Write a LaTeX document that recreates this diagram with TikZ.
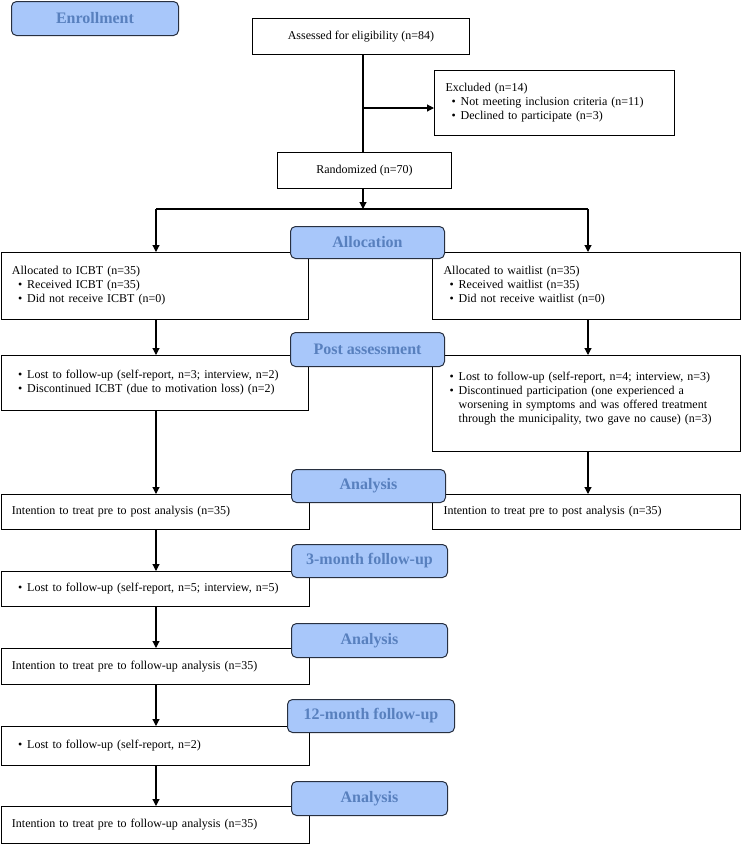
\documentclass[tikz,border=0pt]{standalone}
\usepackage{fontspec}
\setmainfont{Liberation Serif}
\usetikzlibrary{arrows.meta}
\definecolor{pillfill}{RGB}{168,199,250}
\definecolor{pilltext}{RGB}{88,128,190}
\definecolor{pilldraw}{RGB}{40,48,64}
\newcommand{\mybul}{\hspace*{6pt}\textbullet\hspace*{5pt}}
\newcommand{\mycont}{\hspace*{15.2pt}}
\begin{document}
\begin{tikzpicture}[x=1pt,y=-1pt,
  font=\fontsize{12}{14}\selectfont,
  box/.style={draw, line width=1pt, inner xsep=11pt, inner ysep=0pt, align=left, anchor=north west},
  cbox/.style={draw, line width=1pt, inner sep=0pt, align=center, anchor=north west},
  pill/.style={draw=pilldraw, fill=pillfill, rounded corners=5pt, line width=1pt, anchor=north west,
    inner sep=0pt, font=\fontsize{16}{18}\selectfont\bfseries, text=pilltext},
  arr/.style={-{Triangle[length=7pt,width=7pt]}, line width=1.1pt},
  ln/.style={line width=1.1pt}]
\useasboundingbox (0,0) rectangle (740,844);

\coordinate (colL) at (156,0);
\coordinate (colM) at (363,0);
\coordinate (colR) at (588,0);

% boxes
\node[cbox, minimum width=217pt, minimum height=36pt] (assess) at (252,18) {Assessed for eligibility (n=84)};
\node[box, text width=218pt, minimum height=65pt] (excl) at (434,70) {Excluded (n=14)\\
\mybul Not meeting inclusion criteria (n=11)\\
\mybul Declined to participate (n=3)};
\node[cbox, minimum width=174pt, minimum height=36pt] (rand) at (277,152) {Randomized (n=70)};

\node[box, text width=285.5pt, minimum height=67pt] (icbt) at (0.5,252) {Allocated to ICBT (n=35)\\
\mybul Received ICBT (n=35)\\
\mybul Did not receive ICBT (n=0)};
\node[box, text width=285.5pt, minimum height=67pt] (wait) at (432,252) {Allocated to waitlist (n=35)\\
\mybul Received waitlist (n=35)\\
\mybul Did not receive waitlist (n=0)};

\node[box, text width=285.5pt, minimum height=55pt] (postL) at (0.5,355) {\mybul Lost to follow-up (self-report, n=3; interview, n=2)\\
\mybul Discontinued ICBT (due to motivation loss) (n=2)};
\node[box, text width=285.5pt, minimum height=96pt] (postR) at (432,355) {\mybul Lost to follow-up (self-report, n=4; interview, n=3)\\
\mybul Discontinued participation (one experienced a\\
\mycont worsening in symptoms and was offered treatment\\
\mycont through the municipality, two gave no cause) (n=3)\\[-2pt]
\mbox{}};

\node[box, text width=286.5pt, minimum height=35pt] (ittL) at (0.5,494) {Intention to treat pre to post analysis (n=35)};
\node[box, text width=285.5pt, minimum height=35pt] (ittR) at (432,494) {Intention to treat pre to post analysis (n=35)};

\node[box, text width=286.5pt, minimum height=35pt] (lost3) at (0.5,571) {\mybul Lost to follow-up (self-report, n=5; interview, n=5)};
\node[box, text width=286.5pt, minimum height=36pt] (itt3) at (0.5,648) {Intention to treat pre to follow-up analysis (n=35)};
\node[box, text width=286.5pt, minimum height=39pt] (lost12) at (0.5,726) {\mybul Lost to follow-up (self-report, n=2)};
\node[box, text width=286.5pt, minimum height=37pt] (itt12) at (0.5,806) {Intention to treat pre to follow-up analysis (n=35)};

% connectors
\coordinate (exclpt) at (363,108);
\coordinate (split) at (363,209);
\draw[ln] (assess.south -| colM) -- (rand.north -| colM);
\draw[arr] (exclpt) -- (exclpt -| excl.west);
\draw[arr] (rand.south -| colM) -- (split);
\draw[ln] (split -| colL) -- (split -| colR);
\draw[arr] (split -| colL) -- (icbt.north -| colL);
\draw[arr] (split -| colR) -- (wait.north -| colR);
\draw[arr] (icbt.south -| colL) -- (postL.north -| colL);
\draw[arr] (wait.south -| colR) -- (postR.north -| colR);
\draw[arr] (postL.south -| colL) -- (ittL.north -| colL);
\draw[arr] (postR.south -| colR) -- (ittR.north -| colR);
\draw[arr] (ittL.south -| colL) -- (lost3.north -| colL);
\draw[arr] (lost3.south -| colL) -- (itt3.north -| colL);
\draw[arr] (itt3.south -| colL) -- (lost12.north -| colL);
\draw[arr] (lost12.south -| colL) -- (itt12.north -| colL);

% stage labels
\node[pill, minimum width=167pt, minimum height=34pt] (enr) at (11,1) {Enrollment};
\node[pill, minimum width=154pt, minimum height=32pt] (alloc) at (290,226) {Allocation};
\node[pill, minimum width=154pt, minimum height=34pt] (post) at (290,332) {Post assessment};
\node[pill, minimum width=154pt, minimum height=33pt] (an1) at (291,469) {Analysis};
\node[pill, minimum width=156pt, minimum height=33pt] (fu3) at (291,544) {3-month follow-up};
\node[pill, minimum width=156pt, minimum height=34pt] (an2) at (291,623) {Analysis};
\node[pill, minimum width=167pt, minimum height=33pt] (fu12) at (287,699) {12-month follow-up};
\node[pill, minimum width=156pt, minimum height=34pt] (an3) at (291,781) {Analysis};
\end{tikzpicture}
\end{document}
